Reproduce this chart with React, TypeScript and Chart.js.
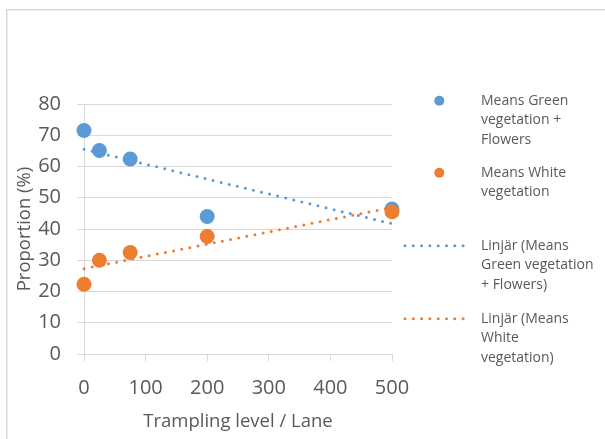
import React, { useEffect, useRef } from "react";
import { Chart, registerables } from "chart.js";

Chart.register(...registerables);

// Trampling levels (lanes) and mean proportions per cover type
const tramplingLevels = [0, 25, 75, 200, 500];
const greenMeans = [71.5, 65.1, 62.4, 44.0, 46.4];
const whiteMeans = [22.3, 30.0, 32.5, 37.6, 45.5];

// Linear trend lines, start and end values
const trendX = [0, 500];
const greenTrend = [65.5, 41.7];
const whiteTrend = [27.3, 46.9];

const yTicks = [0, 10, 20, 30, 40, 50, 60, 70, 80];
const xTicks = [0, 100, 200, 300, 400, 500];

const legendLabels = [
  ["Means Green", "vegetation +", "Flowers"],
  ["Means White", "vegetation"],
  ["Linjär (Means", "Green vegetation", "+ Flowers)"],
  ["Linjär (Means", "White", "vegetation)"],
];

const BLUE = "#5B9BD5";
const ORANGE = "#ED7D31";
const TEXT = "#595959";
const GRID = "#D9D9D9";
const FONT = "'Open Sans', 'Noto Sans', sans-serif";

const toPoints = (xs: number[], ys: number[]) => xs.map((x, i) => ({ x, y: ys[i] }));

// Outer chart frame (left and top edges visible)
const framePlugin = {
  id: "frame",
  beforeDraw(chart: any) {
    const ctx = chart.ctx;
    ctx.save();
    ctx.strokeStyle = GRID;
    ctx.lineWidth = 1.5;
    ctx.beginPath();
    ctx.moveTo(6.75, chart.height);
    ctx.lineTo(6.75, 9.75);
    ctx.lineTo(chart.width, 9.75);
    ctx.stroke();
    ctx.restore();
  },
};

// Legend on the right with wrapped labels
const sideLegendPlugin = {
  id: "sideLegend",
  afterDraw(chart: any) {
    const ctx = chart.ctx;
    const rows = [100.7, 172.7, 245.7, 318.7];
    const lineGap = 19.6;
    const textX = 481;
    ctx.save();
    chart.data.datasets.forEach((ds: any, i: number) => {
      const y = rows[i];
      if (ds.showLine === false) {
        ctx.fillStyle = ds.backgroundColor;
        ctx.beginPath();
        ctx.arc(439.3, y, 5, 0, Math.PI * 2);
        ctx.fill();
      } else {
        ctx.strokeStyle = ds.borderColor;
        ctx.lineWidth = 3;
        ctx.lineCap = "round";
        ctx.setLineDash([0, 8.3]);
        ctx.beginPath();
        ctx.moveTo(405, y);
        ctx.lineTo(468, y);
        ctx.stroke();
        ctx.setLineDash([]);
      }
      ctx.fillStyle = TEXT;
      ctx.font = `14px ${FONT}`;
      ctx.textAlign = "left";
      ctx.textBaseline = "middle";
      legendLabels[i].forEach((line, j) => {
        ctx.fillText(line, textX, y + j * lineGap);
      });
    });
    ctx.restore();
  },
};

export default function App() {
  const canvasRef = useRef<HTMLCanvasElement | null>(null);

  useEffect(() => {
    if (!canvasRef.current) return;
    const chart = new Chart(canvasRef.current, {
      type: "scatter",
      data: {
        datasets: [
          {
            label: legendLabels[0].join(" "),
            data: toPoints(tramplingLevels, greenMeans),
            backgroundColor: BLUE,
            borderColor: BLUE,
            pointRadius: 7.5,
            pointBorderWidth: 0,
            showLine: false,
            clip: false,
            order: 3,
          },
          {
            label: legendLabels[1].join(" "),
            data: toPoints(tramplingLevels, whiteMeans),
            backgroundColor: ORANGE,
            borderColor: ORANGE,
            pointRadius: 7.5,
            pointBorderWidth: 0,
            showLine: false,
            clip: false,
            order: 2,
          },
          {
            label: legendLabels[2].join(" "),
            data: toPoints(trendX, greenTrend),
            borderColor: BLUE,
            backgroundColor: BLUE,
            borderWidth: 3,
            borderDash: [0, 8.3],
            borderCapStyle: "round",
            pointRadius: 0,
            showLine: true,
            clip: false,
            order: 1,
          },
          {
            label: legendLabels[3].join(" "),
            data: toPoints(trendX, whiteTrend),
            borderColor: ORANGE,
            backgroundColor: ORANGE,
            borderWidth: 3,
            borderDash: [0, 8.3],
            borderCapStyle: "round",
            pointRadius: 0,
            showLine: true,
            clip: false,
            order: 0,
          },
        ] as any,
      },
      options: {
        animation: false,
        responsive: false,
        maintainAspectRatio: false,
        layout: { padding: { left: 0, top: 104, right: 213, bottom: 0 } },
        plugins: {
          legend: { display: false },
          tooltip: { enabled: false },
          title: { display: false },
        },
        scales: {
          x: {
            type: "linear",
            min: 0,
            max: 500,
            afterFit: (s: any) => {
              s.height = 85;
            },
            afterBuildTicks: (s: any) => {
              s.ticks = xTicks.map((v) => ({ value: v }));
            },
            border: { display: true, color: GRID, width: 1 },
            grid: {
              display: true,
              drawOnChartArea: false,
              drawTicks: true,
              tickLength: 7,
              color: GRID,
              lineWidth: 1,
            },
            ticks: {
              color: TEXT,
              font: { family: FONT, size: 20 },
              padding: 15,
              maxRotation: 0,
            },
            title: {
              display: true,
              text: "Trampling level / Lane",
              color: TEXT,
              font: { family: FONT, size: 18.5 },
              padding: { top: 0, bottom: 6 },
            },
          },
          y: {
            type: "linear",
            min: 0,
            max: 80,
            afterFit: (s: any) => {
              s.width = 84;
            },
            afterBuildTicks: (s: any) => {
              s.ticks = yTicks.map((v) => ({ value: v }));
            },
            border: { display: true, color: GRID, width: 1 },
            grid: {
              display: true,
              drawTicks: true,
              tickLength: 7,
              color: GRID,
              lineWidth: 1,
            },
            ticks: {
              color: TEXT,
              font: { family: FONT, size: 20 },
              padding: 16,
            },
            title: {
              display: true,
              text: "Proportion (%)",
              color: TEXT,
              font: { family: FONT, size: 18.5 },
              padding: { top: 14, bottom: 0 },
            },
          },
        },
      } as any,
      plugins: [framePlugin, sideLegendPlugin],
    });
    return () => chart.destroy();
  }, []);

  return (
    <div style={{ position: "absolute", left: 0, top: 0, width: 605, height: 439, background: "#fff" }}>
      <canvas ref={canvasRef} width={605} height={439} style={{ display: "block" }} />
    </div>
  );
}
